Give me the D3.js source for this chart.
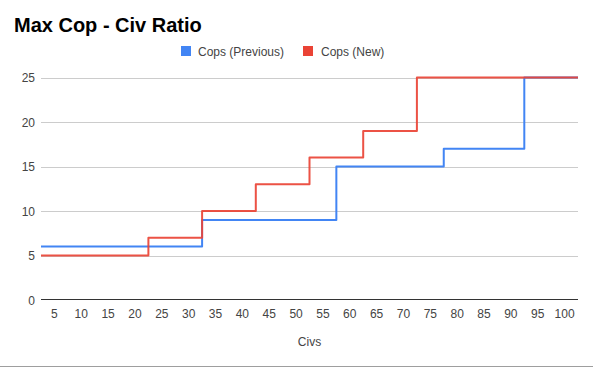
<!DOCTYPE html>
<html>
<head>
<meta charset="utf-8">
<script src="https://cdn.jsdelivr.net/npm/d3@7"></script>
<style>
  html, body { margin: 0; padding: 0; background: #fff; }
  svg { display: block; font-family: "Liberation Sans", Arial, sans-serif; }
</style>
</head>
<body>
<svg id="chart" width="593" height="368"></svg>
<script>
// ---- data ----
const title = "Max Cop - Civ Ratio";
const xTitle = "Civs";
const seriesNames = ["Cops (Previous)", "Cops (New)"];
const seriesColors = ["#4285F4", "#EA4335"];
// step start civ counts and values
const prevCivs = [3, 33, 58, 78, 93];
const prevCops = [6, 9, 15, 17, 25];
const newCivs = [3, 23, 33, 43, 53, 63, 73];
const newCops = [5, 7, 10, 13, 16, 19, 25];
const firstCiv = 3;
const lastCiv = 102;
const xTicks = [5, 10, 15, 20, 25, 30, 35, 40, 45, 50, 55, 60, 65, 70, 75, 80, 85, 90, 95, 100];
const yTicks = [0, 5, 10, 15, 20, 25];

(function () {
// ---- layout ----
const svg = d3.select("#chart");
const mLeft = 41, mRight = 578, mTop = 77.5, mBottom = 300;

const x = d3.scaleLinear().domain([firstCiv - 0.5, lastCiv + 0.5]).range([mLeft, mRight]);
const y = d3.scaleLinear().domain([0, 25]).range([mBottom, mTop]);

// title
svg.append("text").attr("x", 14).attr("y", 32)
  .attr("font-size", 20).attr("font-weight", "bold").attr("fill", "#000")
  .text(title);

// legend
const legendItems = [
  { name: seriesNames[0], color: seriesColors[0], sx: 181, tx: 198 },
  { name: seriesNames[1], color: seriesColors[1], sx: 303, tx: 321 }
];
legendItems.forEach(d => {
  svg.append("rect").attr("x", d.sx).attr("y", 46).attr("width", 10).attr("height", 10).attr("fill", d.color);
  svg.append("text").attr("x", d.tx).attr("y", 55.5).attr("font-size", 12).attr("fill", "#444").text(d.name);
});

// gridlines
svg.append("g").selectAll("line").data(yTicks.filter(t => t > 0)).join("line")
  .attr("x1", mLeft).attr("x2", mRight)
  .attr("y1", d => Math.round(y(d)) + 0.5).attr("y2", d => Math.round(y(d)) + 0.5)
  .attr("stroke", "#cccccc").attr("stroke-width", 1);

// y labels
svg.append("g").selectAll("text").data(yTicks).join("text")
  .attr("x", 35).attr("y", d => y(d) + 4.5)
  .attr("text-anchor", "end").attr("font-size", 12).attr("fill", "#444")
  .text(d => d);

// x labels
svg.append("g").selectAll("text").data(xTicks).join("text")
  .attr("x", d => x(d)).attr("y", 318)
  .attr("text-anchor", "middle").attr("font-size", 12).attr("fill", "#444")
  .text(d => d);

// x title
svg.append("text").attr("x", (mLeft + mRight) / 2).attr("y", 346)
  .attr("text-anchor", "middle").attr("font-size", 12).attr("fill", "#444")
  .text(xTitle);

// step lines
function stepPoints(civs, vals) {
  const pts = civs.map((c, i) => [c - 0.5, vals[i]]);
  pts.push([lastCiv + 0.5, vals[vals.length - 1]]);
  return pts;
}
const line = d3.line().x(d => x(d[0])).y(d => y(d[1])).curve(d3.curveStepAfter);
const series = [stepPoints(prevCivs, prevCops), stepPoints(newCivs, newCops)];
series.forEach((pts, i) => {
  svg.append("path").attr("d", line(pts))
    .attr("fill", "none").attr("stroke", seriesColors[i]).attr("stroke-width", 2)
    .attr("stroke-linejoin", "round").attr("stroke-opacity", i === 1 ? 0.92 : 1);
});

// baseline axis
svg.append("line").attr("x1", mLeft).attr("x2", mRight)
  .attr("y1", Math.round(y(0)) - 0.5).attr("y2", Math.round(y(0)) - 0.5)
  .attr("stroke", "#333").attr("stroke-width", 1);

// bottom border
svg.append("line").attr("x1", 0).attr("x2", 593).attr("y1", 366.5).attr("y2", 366.5)
  .attr("stroke", "#9e9e9e").attr("stroke-width", 1);
})();
</script>
</body>
</html>
